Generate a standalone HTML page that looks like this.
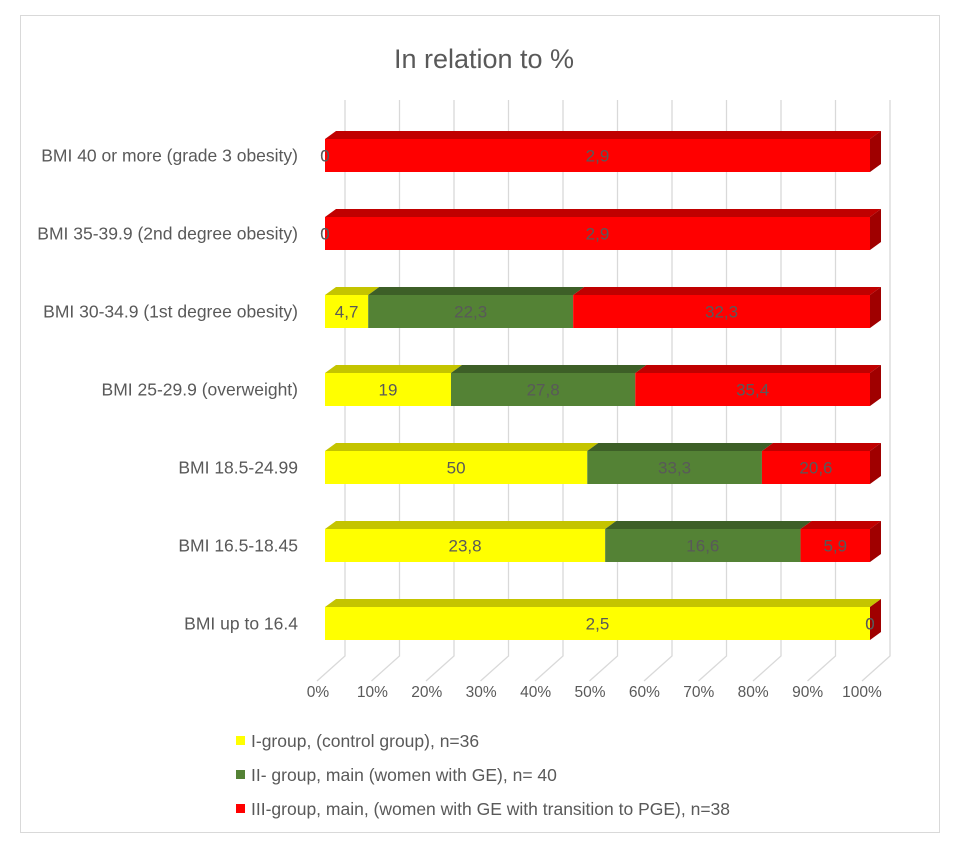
<!DOCTYPE html>
<html><head><meta charset="utf-8"><style>
body{margin:0;background:#fff;}
svg text{font-family:"Liberation Sans",Arial,sans-serif;fill:#595959;}
</style></head><body>
<svg id="c" width="958" height="845" xmlns="http://www.w3.org/2000/svg">
<rect x="20.5" y="15.5" width="919" height="817" fill="#fff" stroke="#d9d9d9"/>
<text x="484" y="68" font-size="27" text-anchor="middle">In relation to %</text>
<g id="grid"></g><g id="bars"></g><g id="labels"></g><g id="legend"></g>
</svg>
<script>
const categories=["BMI 40 or more (grade 3 obesity)","BMI 35-39.9 (2nd degree obesity)","BMI 30-34.9 (1st degree obesity)","BMI 25-29.9 (overweight)","BMI 18.5-24.99","BMI 16.5-18.45","BMI up to 16.4"];
const group1=[0,0,4.7,19,50,23.8,2.5];
const group2=[0,0,22.3,27.8,33.3,16.6,0];
const group3=[2.9,2.9,32.3,35.4,20.6,5.9,0];
const seriesNames=["I-group, (control group), n=36","II- group, main (women with GE), n= 40","III-group, main, (women with GE with transition to PGE), n=38"];
const tickLabels=["0%","10%","20%","30%","40%","50%","60%","70%","80%","90%","100%"];
(function(){
const NS="http://www.w3.org/2000/svg";
const frontC=["#FFFF00","#548235","#FF0000"],topC=["#C4C400","#3D5F27","#C00000"],sideC=["#A0A000","#2F4A1E","#A00000"];
const X0=325,W=545,DX=11,DY=8,H=33;
const xs=p=>X0+W*p;
const ys=i=>139+78*i;
function mk(t,a,p){const e=document.createElementNS(NS,t);for(const k in a)e.setAttribute(k,a[k]);p.appendChild(e);return e;}
const grid=document.getElementById('grid');
for(let i=0;i<=10;i++){
  const gx=345+54.5*i;
  const l=mk('polyline',{points:`${gx-28},681 ${gx},656 ${gx},100`,fill:'none',stroke:'#d9d9d9','stroke-width':1.3},grid);
  
  
  const t=mk('text',{x:318+54.4*i,y:697,'font-size':15.5,'text-anchor':'middle'},grid);
  t.textContent=tickLabels[i];
  
  
}
const bars=document.getElementById('bars'),labels=document.getElementById('labels');
const series=[group1,group2,group3];
categories.forEach((c,i)=>{
  const tot=group1[i]+group2[i]+group3[i];
  const yy=ys(i);
  const ct=mk('text',{x:298,y:yy+H/2+6,'font-size':17.5,'text-anchor':'end'},labels);
  ct.textContent=c;
  
  
  let cum=0;
  series.forEach((s,k)=>{
    const a=xs(cum/tot),b=xs((cum+s[i])/tot);
    if(s[i]>0){
      const tp=mk('polygon',{points:`${a},${yy} ${a+DX},${yy-DY} ${b+DX},${yy-DY} ${b},${yy}`,fill:topC[k]},bars);
      
      
      const r=mk('rect',{x:a,y:yy,width:b-a,height:H,fill:frontC[k]},bars);
      
      
    }
    const lt=mk('text',{x:(a+b)/2,y:yy+H/2+6,'font-size':17,'text-anchor':'middle',fill:'#404040'},labels);
    lt.textContent=String(s[i]).replace('.',',');
    
    
    cum+=s[i];
  });
  const sd=mk('polygon',{points:`${xs(1)},${yy} ${xs(1)+DX},${yy-DY} ${xs(1)+DX},${yy+H-DY} ${xs(1)},${yy+H}`,fill:sideC[2]},bars);
  
  
});
const lg=document.getElementById('legend');
seriesNames.forEach((n,k)=>{
  const r=mk('rect',{x:236,y:736+34*k,width:9,height:9,fill:frontC[k]},lg);
  
  
  const t=mk('text',{x:251,y:747+34*k,'font-size':17.5},lg);
  t.textContent=n;
  
  
});
})();
</script>
</body></html>
